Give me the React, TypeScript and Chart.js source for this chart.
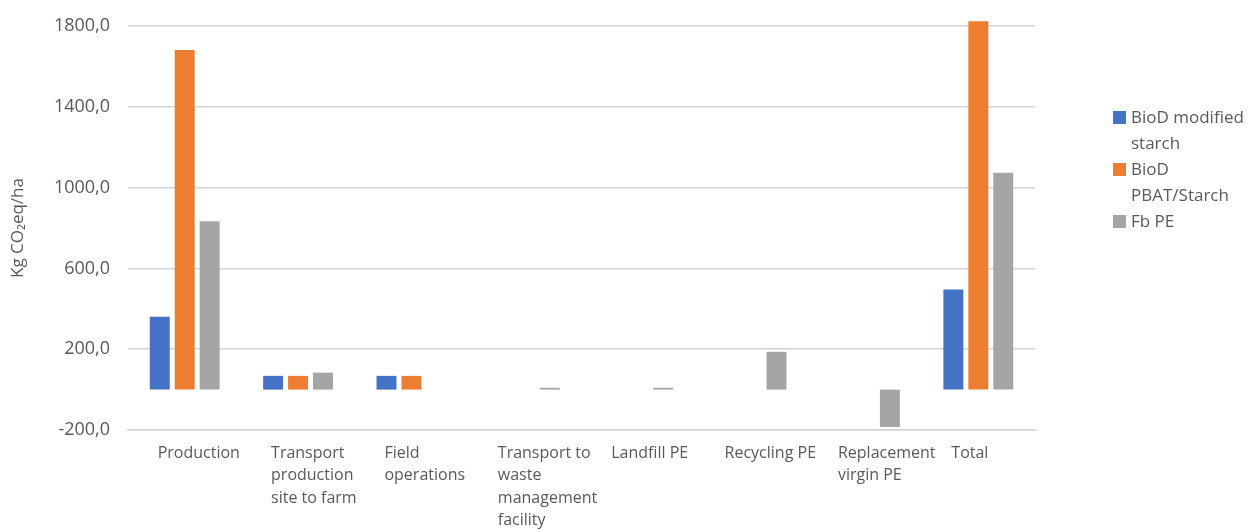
import React, { useEffect, useRef } from "react";
import { Chart, registerables } from "chart.js";

Chart.register(...registerables);

const categories: string[][] = [
  ["Production"],
  ["Transport", "production", "site to farm"],
  ["Field", "operations"],
  ["Transport to", "waste", "management", "facility"],
  ["Landfill PE"],
  ["Recycling PE"],
  ["Replacement", "virgin PE"],
  ["Total"],
];

const seriesNames = ["BioD modified starch", "BioD PBAT/Starch", "Fb PE"];
const seriesColors = ["#4472C4", "#ED7D31", "#A5A5A5"];

const bioDModifiedStarch: (number | null)[] = [361, 68, 68, null, null, null, null, 496];
const bioDPbatStarch: (number | null)[] = [1681, 68, 68, null, null, null, null, 1823];
const fbPE: (number | null)[] = [834, 84, null, 9, 9, 187, -185, 1074];

const yTicks = [-200, 200, 600, 1000, 1400, 1800];

const TEXT = "#595959";
const FONT = "'Open Sans', sans-serif";

export default function App() {
  const ref = useRef<HTMLCanvasElement | null>(null);

  useEffect(() => {
    if (!ref.current) return;
    const series = [bioDModifiedStarch, bioDPbatStarch, fbPE];
    const chart = new Chart(ref.current, {
      type: "bar",
      data: {
        labels: categories,
        datasets: series.map((d, i) => ({
          label: seriesNames[i],
          data: d,
          backgroundColor: seriesColors[i],
          borderWidth: 0,
          categoryPercentage: 0.66,
          barPercentage: 0.8,
          clip: false as any,
        })),
      },
      options: {
        animation: false,
        responsive: true,
        maintainAspectRatio: false,
        layout: { padding: { left: 0, top: 18, right: 218, bottom: 0 } },
        plugins: {
          legend: { display: false },
          tooltip: { enabled: false },
        },
        scales: {
          x: {
            grid: { display: false, drawTicks: false },
            border: { display: true, color: "#d4d4d4", width: 1.5 },
            ticks: {
              color: TEXT,
              font: { family: FONT, size: 16, lineHeight: 1.4 },
              align: "start",
              labelOffset: -27,
              padding: 12,
              maxRotation: 0,
              autoSkip: false,
            },
            afterFit: (scale: any) => {
              scale.height = 102;
            },
          },
          y: {
            min: -200,
            max: 1800,
            afterBuildTicks: (scale: any) => {
              scale.ticks = yTicks.map((v) => ({ value: v }));
            },
            grid: {
              color: "#d4d4d4",
              lineWidth: 1.5,
              drawTicks: true,
              tickLength: 15,
              tickColor: "rgba(0,0,0,0)",
            },
            border: { display: false },
            ticks: {
              color: TEXT,
              font: { family: FONT, size: 18 },
              padding: 3,
              callback: (v: any) => Number(v).toFixed(1).replace(".", ","),
            },
            title: {
              display: true,
              text: "Kg CO₂eq/ha",
              color: TEXT,
              font: { family: FONT, size: 17 },
              padding: { top: 0, bottom: 0 },
            },
            afterFit: (scale: any) => {
              scale.width = 120;
            },
          },
        },
      },
    });
    return () => chart.destroy();
  }, []);

  return (
    <div style={{ position: "relative", width: 1245, height: 524, overflow: "hidden" }}>
      <canvas ref={ref} />
      <div
        style={{
          position: "absolute",
          left: 1105,
          top: 96,
          fontFamily: FONT,
          fontSize: 17,
          lineHeight: "26px",
          color: TEXT,
        }}
      >
        {seriesNames.map((n, i) => (
          <div key={n} style={{ display: "flex", alignItems: "flex-start" }}>
            <div
              style={{
                width: 13,
                height: 13,
                background: seriesColors[i],
                marginTop: 7,
                marginRight: 5,
                flex: "none",
              }}
            />
            <div style={{ width: 122 }}>{n}</div>
          </div>
        ))}
      </div>
    </div>
  );
}
